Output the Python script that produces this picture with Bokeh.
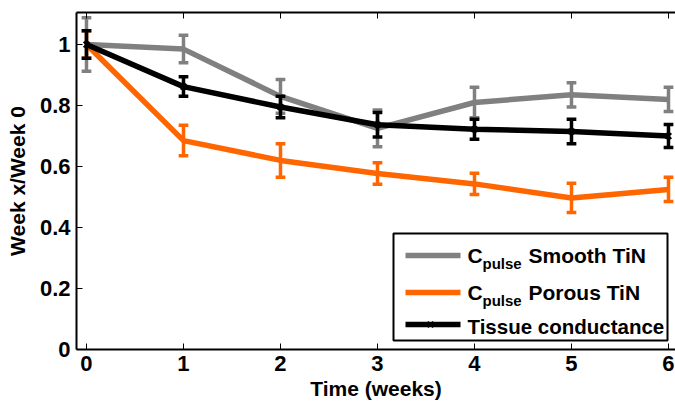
from bokeh.plotting import figure
from bokeh.models import (Range1d, LinearAxis, FixedTicker, CustomJSTickFormatter)
from bokeh.embed import file_html
from bokeh.resources import INLINE
from bokeh.core.properties import value

# ---------------- data ----------------
weeks = [0, 1, 2, 3, 4, 5, 6]
smooth = [1.0, 0.985, 0.83, 0.725, 0.81, 0.835, 0.82]
smooth_err = [0.088, 0.045, 0.055, 0.06, 0.05, 0.04, 0.04]
porous = [1.0, 0.685, 0.62, 0.577, 0.543, 0.497, 0.525]
porous_err = [0.045, 0.05, 0.055, 0.035, 0.035, 0.048, 0.04]
tissue = [1.0, 0.862, 0.795, 0.737, 0.722, 0.715, 0.70]
tissue_err = [0.045, 0.032, 0.035, 0.04, 0.033, 0.04, 0.038]

x_ticks = [0, 1, 2, 3, 4, 5, 6]
y_ticks = [0, 0.2, 0.4, 0.6, 0.8, 1.0]

GRAY = "#808080"
ORANGE = "#FF6600"
BLACK = "#000000"
FONT = "Liberation Sans"

# ---------------- layout ----------------
W, H = 675, 403
L, T = 76, 12
FW, FH = 599, 337
X0 = -0.103
X1 = X0 + FW / 97.0
Y0, Y1 = 0.0, 1.105


def fx(px):
    return X0 + (px - L) / FW * (X1 - X0)


def fy(py):
    return Y1 - (py - T) / FH * (Y1 - Y0)


p = figure(width=W, height=H,
           x_range=Range1d(X0, X1), y_range=Range1d(Y0, Y1),
           output_backend="svg", toolbar_location=None,
           min_border_left=L, min_border_top=T, min_border_right=0,
           min_border_bottom=H - T - FH)
p.outline_line_color = None
p.xgrid.visible = False
p.ygrid.visible = False
p.background_fill_color = "white"
p.border_fill_color = "white"

for ax in (p.xaxis[0], p.yaxis[0]):
    ax.axis_line_width = 2
    ax.axis_line_color = "black"
    ax.major_tick_in = 6
    ax.major_tick_out = 0
    ax.major_tick_line_width = 1
    ax.minor_tick_line_color = None
    ax.major_label_text_font = FONT
    ax.major_label_text_font_style = "bold"
    ax.major_label_text_font_size = "22px"
    ax.major_label_text_color = "black"
    ax.axis_label_text_font = FONT
    ax.axis_label_text_font_style = "bold"
    ax.axis_label_text_font_size = "21px"
    ax.axis_label_text_color = "black"

p.xaxis[0].ticker = FixedTicker(ticks=x_ticks)
p.yaxis[0].ticker = FixedTicker(ticks=y_ticks)
p.yaxis[0].formatter = CustomJSTickFormatter(code="return tick.toFixed(1).replace(/\\.0$/, '');")
p.xaxis[0].major_label_standoff = 6
p.xaxis[0].axis_label = "Time (weeks)"
p.xaxis[0].axis_label_standoff = 3
p.yaxis[0].major_label_standoff = 6
p.yaxis[0].axis_label = "Week x/Week 0"
p.yaxis[0].axis_label_standoff = 8

top = LinearAxis(ticker=FixedTicker(ticks=x_ticks), axis_line_width=2,
                 major_tick_in=6, major_tick_out=0, minor_tick_line_color=None,
                 major_label_text_font_size="0px", major_label_standoff=0)
top.major_label_text_color = None
p.add_layout(top, "above")

CAP = 0.05


def series(y, err, color, marker=False):
    p.line(weeks, y, line_color=color, line_width=5.5, line_join="round")
    lo = [a - e for a, e in zip(y, err)]
    hi = [a + e for a, e in zip(y, err)]
    p.segment(x0=weeks, y0=lo, x1=weeks, y1=hi, line_color=color, line_width=3.5)
    xl = [w - CAP for w in weeks]
    xr = [w + CAP for w in weeks]
    p.segment(x0=xl, y0=lo, x1=xr, y1=lo, line_color=color, line_width=3.5)
    p.segment(x0=xl, y0=hi, x1=xr, y1=hi, line_color=color, line_width=3.5)
    if marker:
        p.scatter(weeks, y, marker="x", size=8, line_color=color, line_width=2)


series(smooth, smooth_err, GRAY)
series(porous, porous_err, ORANGE)
series(tissue, tissue_err, BLACK, marker=True)

# ---------------- legend (manual, for subscripts) ----------------
p.quad(left=[fx(393)], right=[fx(667)], top=[fy(233)], bottom=[fy(340)],
       fill_color="white", line_color="black", line_width=2)
rows_y = [255, 292, 324]
colors = [GRAY, ORANGE, BLACK]
p.segment(x0=[fx(405)] * 3, x1=[fx(460)] * 3, y0=[fy(r) for r in rows_y],
          y1=[fy(r) for r in rows_y], line_color=colors, line_width=5.5)
p.scatter([fx(430)], [fy(324)], marker="x", size=8, line_color="black", line_width=2)

tkw = dict(text_font=value(FONT), text_font_style="bold", text_baseline="alphabetic",
           text_color="black", text_align="left")
p.text(x=[fx(467), fx(467)], y=[fy(255), fy(292)], text=["C", "C"],
       text_font_size="21px", **tkw)
p.text(x=[fx(482), fx(482)], y=[fy(263), fy(300)], text=["pulse", "pulse"],
       text_font_size="15px", **tkw)
p.text(x=[fx(528), fx(528)], y=[fy(255), fy(292)], text=["Smooth TiN", "Porous TiN"],
       text_font_size="21px", **tkw)
p.text(x=[fx(467)], y=[fy(326)], text=["Tissue conductance"],
       text_font_size="20.5px", **tkw)

open("out.html", "w").write(file_html(p, INLINE))
